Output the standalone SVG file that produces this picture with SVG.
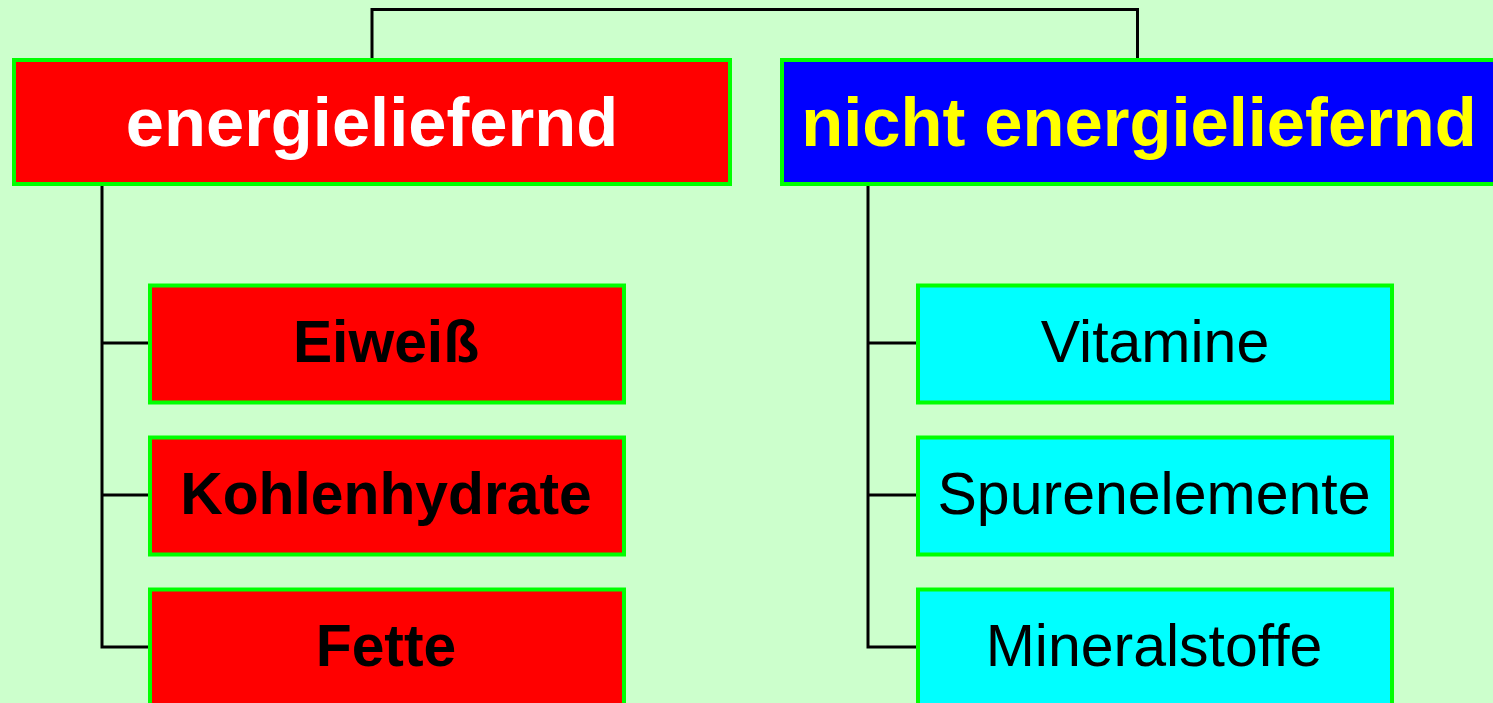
<svg xmlns="http://www.w3.org/2000/svg" width="1493" height="703" viewBox="0 0 1493 703">
  <style>
    .box { stroke: #00ff00; stroke-width: 4; }
    .red { fill: #ff0000; }
    .blue { fill: #0000ff; }
    .cyan { fill: #00ffff; }
    .wire { fill: none; stroke: #000000; stroke-width: 3; }
    .head { font-family: "Liberation Sans", Arial, sans-serif; font-weight: bold; font-size: 68.7px; text-anchor: middle; }
    .item { font-family: "Liberation Sans", Arial, sans-serif; font-size: 59px; text-anchor: middle; fill: #000000; }
    .bold { font-weight: bold; font-size: 58.8px; }
  </style>
  <rect width="1493" height="703" fill="#ccffcc"/>

  <g id="connectors">
    <path class="wire" d="M372 58 V9.5 H1137.5 V58"/>
    <path class="wire" d="M102 186 V647 H148 M102 343 H148 M102 495 H148"/>
    <path class="wire" d="M868 186 V647 H916 M868 343 H916 M868 495 H916"/>
  </g>

  <g id="energieliefernd">
    <rect class="box red" x="14" y="60" width="716" height="124"/>
    <text class="head" x="372" y="146" fill="#ffffff">energieliefernd</text>
  </g>
  <g id="nicht-energieliefernd">
    <rect class="box blue" x="782" y="60" width="716" height="124"/>
    <text class="head" x="1139" y="146" fill="#ffff00">nicht energieliefernd</text>
  </g>

  <g id="eiweiss">
    <rect class="box red" x="150" y="285.5" width="474" height="117"/>
    <text class="item bold" x="386" y="362">Eiweiß</text>
  </g>
  <g id="kohlenhydrate">
    <rect class="box red" x="150" y="437.5" width="474" height="117"/>
    <text class="item bold" x="386" y="514">Kohlenhydrate</text>
  </g>
  <g id="fette">
    <rect class="box red" x="150" y="589.5" width="474" height="117"/>
    <text class="item bold" x="386" y="666">Fette</text>
  </g>

  <g id="vitamine">
    <rect class="box cyan" x="918" y="285.5" width="474" height="117"/>
    <text class="item" x="1155" y="362">Vitamine</text>
  </g>
  <g id="spurenelemente">
    <rect class="box cyan" x="918" y="437.5" width="474" height="117"/>
    <text class="item" x="1154" y="514">Spurenelemente</text>
  </g>
  <g id="mineralstoffe">
    <rect class="box cyan" x="918" y="589.5" width="474" height="117"/>
    <text class="item" x="1154" y="666">Mineralstoffe</text>
  </g>
</svg>
